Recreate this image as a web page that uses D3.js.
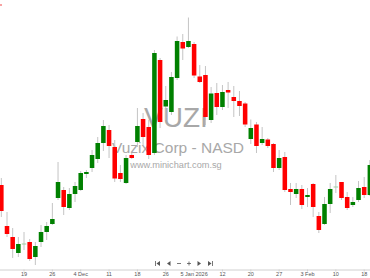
<!DOCTYPE html>
<html><head><meta charset="utf-8">
<script src="https://cdn.jsdelivr.net/npm/d3@7/dist/d3.min.js"></script>
<style>html,body{margin:0;padding:0;background:#fff;overflow:hidden}svg{display:block;font-family:"Liberation Sans",Arial,sans-serif}</style>
</head><body><svg id="c" width="370" height="278"></svg>
<script>
const dates = ["2025-11-13","2025-11-14","2025-11-17","2025-11-18","2025-11-19","2025-11-20","2025-11-21","2025-11-24","2025-11-25","2025-11-26",
"2025-11-28","2025-12-01","2025-12-02","2025-12-03","2025-12-04","2025-12-05","2025-12-08","2025-12-09","2025-12-10","2025-12-11",
"2025-12-12","2025-12-15","2025-12-16","2025-12-17","2025-12-18","2025-12-19","2025-12-22","2025-12-23","2025-12-24","2025-12-26",
"2025-12-29","2025-12-30","2025-12-31","2026-01-02","2026-01-05","2026-01-06","2026-01-07","2026-01-08","2026-01-09","2026-01-12",
"2026-01-13","2026-01-14","2026-01-15","2026-01-16","2026-01-20","2026-01-21","2026-01-22","2026-01-23","2026-01-26","2026-01-27",
"2026-01-28","2026-01-29","2026-01-30","2026-02-02","2026-02-03","2026-02-04","2026-02-05","2026-02-06","2026-02-09","2026-02-10",
"2026-02-11","2026-02-12","2026-02-13","2026-02-17","2026-02-18","2026-02-19"];
const open  = [3.05,2.64,2.53,2.37,2.46,2.48,2.33,2.48,2.58,2.66, 2.92,3.00,2.82,2.96,3.00,3.16,3.22,3.31,3.47,3.60,
3.43,3.17,3.07,3.35,3.48,3.71,3.63,3.37,4.30,3.835, 3.78,4.12,4.48,4.43,4.46,4.135,4.15,3.70,3.97,3.83,
4.00,3.93,3.89,3.865,3.51,3.655,3.47,3.505,3.46,3.22, 3.33,3.01,2.96,3.01,2.93,3.06,2.74,2.66,2.86,3.03,
3.08,2.93,2.85,2.90,3.03,2.95];
const high  = [3.12,2.78,2.62,2.53,2.58,2.51,2.48,2.65,2.68,2.87, 3.28,3.03,3.02,3.08,3.19,3.20,3.40,3.53,3.70,3.65,
3.50,3.25,3.35,3.37,3.82,3.77,3.70,4.40,4.32,4.04, 4.18,4.535,4.56,4.725,4.48,4.25,4.24,4.03,4.07,4.05,
4.08,4.04,3.99,3.88,3.705,3.68,3.63,3.52,3.47,3.40, 3.38,3.07,3.07,3.05,3.02,3.07,2.78,2.93,3.07,3.15,
3.08,2.98,2.93,3.09,3.13,3.30];
const low   = [2.73,2.53,2.32,2.33,2.40,2.29,2.25,2.43,2.50,2.65, 2.90,2.75,2.80,2.88,2.99,3.12,3.18,3.27,3.39,3.32,
3.08,3.08,3.06,3.31,3.43,3.45,3.31,3.35,3.62,3.70, 3.75,4.10,4.30,4.42,4.12,4.07,3.65,3.67,3.75,3.80,
3.82,3.73,3.74,3.63,3.46,3.37,3.45,3.42,3.18,3.20, 2.98,2.85,2.92,2.81,2.83,2.73,2.57,2.65,2.77,2.97,
2.90,2.80,2.83,2.88,2.92,2.94];
const close = [2.79,2.56,2.41,2.46,2.46,2.31,2.44,2.58,2.64,2.71, 3.08,2.83,2.96,3.04,3.17,3.18,3.35,3.47,3.64,3.44,
3.115,3.11,3.32,3.32,3.64,3.53,3.35,4.37,3.68,3.90, 4.13,4.49,4.415,4.49,4.145,4.08,3.73,3.965,3.83,3.98,
3.975,3.89,3.84,3.655,3.62,3.44,3.51,3.44,3.22,3.32, 3.00,2.98,3.01,2.85,2.95,2.83,2.60,2.86,3.01,3.03,
2.92,2.82,2.88,3.02,2.95,3.25];
const tickDates  = ["2025-11-19","2025-11-26","2025-12-04","2025-12-11","2025-12-18","2025-12-26","2026-01-05","2026-01-12","2026-01-20","2026-01-27","2026-02-03","2026-02-10","2026-02-18"];
const tickLabels = ["19","26","4 Dec","11","18","26","5 Jan 2026","12","20","27","3 Feb","10","18"];
const symbol = "VUZI";
const company = "Vuzix Corp - NASD";
const site = "www.minichart.com.sg";

const W = 370, H = 278;
const svg = d3.select("#c");
const x = d3.scaleBand().domain(dates).range([-1.5, 372.7]).padding(0);
const y = d3.scaleLinear().domain([2.1, 4.9]).range([280, 0]);
const bw = x.bandwidth() * 0.8;
const cx = d => x(d) + x.bandwidth() / 2;

// small pink mark top-left
svg.append("rect").attr("x", 0).attr("y", 4).attr("width", 2).attr("height", 2).attr("fill", "#f7a3a3");

// watermark
const wm = svg.append("g").attr("fill", "#a8a8a8").attr("text-anchor", "middle");
wm.append("text").attr("x", 176).attr("y", 127).attr("font-size", 28).text(symbol);
wm.append("text").attr("x", 178).attr("y", 153).attr("font-size", 15.5).text(company);
wm.append("text").attr("x", 176).attr("y", 168).attr("font-size", 9.2).text(site);

const data = dates.map((d, i) => ({d, o: open[i], h: high[i], l: low[i], c: close[i]}));

// wicks
svg.append("g").selectAll("line").data(data).join("line")
  .attr("x1", d => cx(d.d)).attr("x2", d => cx(d.d))
  .attr("y1", d => y(d.h)).attr("y2", d => y(d.l))
  .attr("stroke", "#c4c4c4").attr("stroke-width", 1);

// bodies
svg.append("g").selectAll("rect").data(data).join("rect")
  .attr("x", d => cx(d.d) - bw / 2).attr("width", bw)
  .attr("y", d => d.o === d.c ? y(d.o) - 0.5 : y(Math.max(d.o, d.c)))
  .attr("height", d => d.o === d.c ? 1 : Math.max(1, Math.abs(y(d.o) - y(d.c))))
  .attr("fill", d => d.o === d.c ? "#9fcf9f" : (d.c > d.o ? "#008000" : "#ff0000"));

// axis
const ax = svg.append("g").attr("transform", "translate(0,269.5)")
  .call(d3.axisBottom(x).tickValues(tickDates).tickFormat((d, i) => tickLabels[i]).tickSize(2).tickSizeOuter(0).tickPadding(1));
ax.select(".domain").attr("stroke", "#d0d0d0");
ax.selectAll(".tick line").attr("stroke", "#d0d0d0");
ax.selectAll(".tick text").attr("fill", "#555").attr("font-size", 5.5).attr("font-family", "Liberation Sans, Arial, sans-serif");

// navigation icons
const nav = svg.append("g").attr("fill", "#555").attr("stroke", "#555").attr("stroke-width", 0.8);
const ny = 263.5;
// first
nav.append("line").attr("x1", 155.5).attr("x2", 155.5).attr("y1", ny - 2.5).attr("y2", ny + 2.5);
nav.append("path").attr("d", `M160,${ny-2.5}L156.5,${ny}L160,${ny+2.5}Z`).attr("stroke", "none");
// prev
nav.append("path").attr("d", `M170.5,${ny-2.5}L167,${ny}L170.5,${ny+2.5}Z`).attr("stroke", "none");
// minus
nav.append("line").attr("x1", 177).attr("x2", 181).attr("y1", ny).attr("y2", ny);
// plus
nav.append("line").attr("x1", 187).attr("x2", 191).attr("y1", ny).attr("y2", ny);
nav.append("line").attr("x1", 189).attr("x2", 189).attr("y1", ny - 2).attr("y2", ny + 2);
// next
nav.append("path").attr("d", `M197.5,${ny-2.5}L201,${ny}L197.5,${ny+2.5}Z`).attr("stroke", "none");
// last
nav.append("path").attr("d", `M208,${ny-2.5}L211.5,${ny}L208,${ny+2.5}Z`).attr("stroke", "none");
nav.append("line").attr("x1", 212.5).attr("x2", 212.5).attr("y1", ny - 2.5).attr("y2", ny + 2.5);
</script></body></html>
